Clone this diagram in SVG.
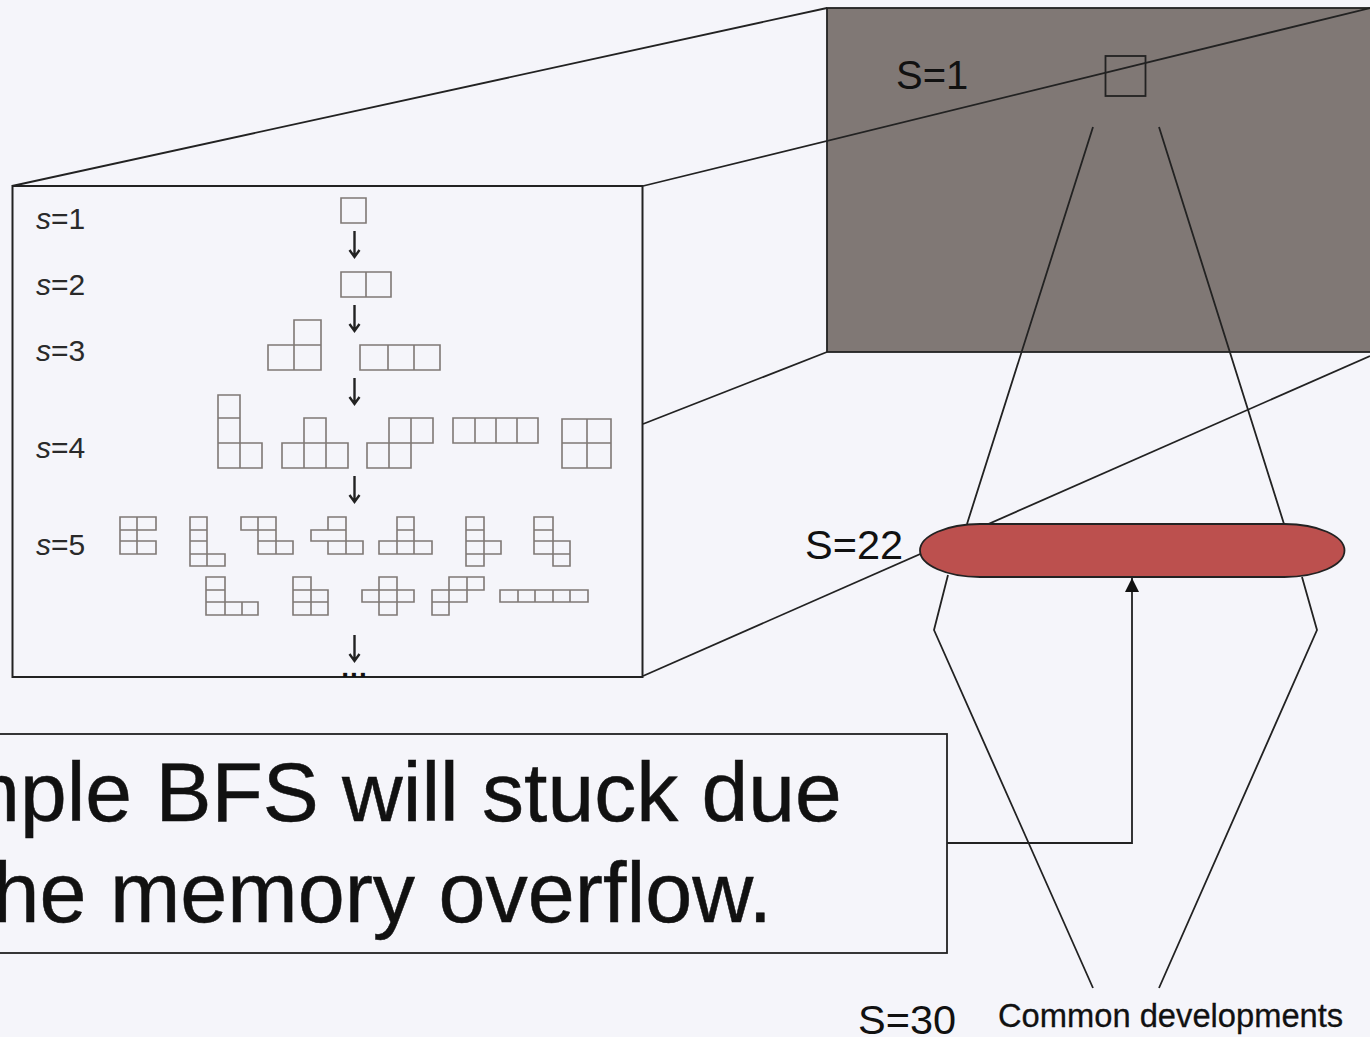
<svg xmlns="http://www.w3.org/2000/svg" width="1370" height="1037" viewBox="0 0 1370 1037">
<style>
text{font-family:"Liberation Sans",Arial,sans-serif;fill:#111}
.line{fill:none;stroke:#222;stroke-width:1.8}
.poly{fill:none;stroke:#7f7875;stroke-width:1.6}
.lab{font-size:30px;fill:#2a2a2a}
.lab tspan{font-style:italic}
.big{font-size:84px;stroke:#111;stroke-width:.5}
.mid{font-size:41.500px}
.arr{fill:none;stroke:#222;stroke-width:2.4}
</style>
<defs>
<g id="down"><path class="arr" d="M0 0V26M-5 19L0 26L5 19"/></g>
<marker id="tri" markerUnits="userSpaceOnUse" markerWidth="14" markerHeight="15" refX="7" refY="0" orient="0" overflow="visible"><path d="M0 14L7 0L14 14Z" fill="#111"/></marker>
</defs>
<rect width="1370" height="1037" fill="#f5f5fa"/>
<g id="overview">
<rect x="827" y="8" width="560" height="344" fill="#807875" stroke="#222" stroke-width="1.8"/>
<text x="896" y="89" style="font-size:40px">S=1</text>
<rect x="1105.500" y="56" width="40" height="40" fill="none" stroke="#222" stroke-width="1.8"/>
</g>
<g id="connectors">
<path class="line" d="M12 186L827 8"/>
<path class="line" d="M643 186L1370 8"/>
<path class="line" d="M643 424L827 352"/>
<path class="line" d="M643 676L1370 356"/>
<path class="line" d="M1093 127L967 524M948 575L934 630L1093 988"/>
<path class="line" d="M1159 127L1284 524M1302 577L1317 630L1159 988"/>
</g>
<g id="detail-frame">
<rect x="12.500" y="186" width="630" height="491" fill="#f5f5fa" stroke="#222" stroke-width="2"/>
<text class="lab" x="36" y="229"><tspan>s</tspan>=1</text>
<text class="lab" x="36" y="295"><tspan>s</tspan>=2</text>
<text class="lab" x="36" y="361"><tspan>s</tspan>=3</text>
<text class="lab" x="36" y="458"><tspan>s</tspan>=4</text>
<text class="lab" x="36" y="555"><tspan>s</tspan>=5</text>
<use href="#down" x="354.500" y="231"/>
<use href="#down" x="354.500" y="305"/>
<use href="#down" x="354.500" y="378"/>
<use href="#down" x="354.500" y="476"/>
<use href="#down" x="354.500" y="635"/>
<text x="354.500" y="677" text-anchor="middle" style="font-size:28px;font-weight:bold;letter-spacing:1px">...</text>
</g>
<g id="polyominoes-s1-s3" class="poly">
<path d="M341 198H366V223H341Z"/>
<path d="M341 272H391V297H341ZM366 272V297"/>
<path d="M268 345H321V370H268ZM294 320H321V370H294Z"/>
<path d="M360 345H440V370H360ZM388 345V370M414 345V370"/>
</g>
<g id="polyominoes-s4" class="poly">
<path d="M218 395H240V468H218ZM218 418H240M218 443H262V468H240V443"/>
<path d="M282 443H348V468H282ZM304 418H326V468H304Z"/>
<path d="M367 443H411V468H367ZM389 418H433V443H389ZM389 418V468M411 418V468"/>
<path d="M453 418H538V443H453ZM475 418V443M496 418V443M517 418V443"/>
<path d="M562 419H611V468H562ZM587 419V468M562 443H611"/>
</g>
<g id="polyominoes-s5" class="poly">
<path d="M120 517H156V530H137V541H156V554H120ZM137 517V554M120 530H137M120 541H137"/>
<path d="M190 517H207V554H225V566H190ZM190 530H207M190 541H207M190 554H207M207 554V566"/>
<path d="M241 517H276V541H293V554H258V530H241ZM258 517V530M258 530H276M258 541H276M276 541V554"/>
<path d="M328 517H346V541H363V554H328V541H311V530H328ZM328 530H346M328 541H346M346 541V554"/>
<path d="M397 517H414V541H432V554H379V541H397ZM397 530H414M397 541H414M397 541V554M414 541V554"/>
<path d="M466 517H484V541H501V554H484V566H466ZM466 530H484M466 541H484M466 554H484M484 541V554"/>
<path d="M534 517H553V541H570V566H553V554H534ZM534 530H553M534 541H553M553 541V554M553 554H570"/>
<path d="M206 577H225V602H258V615H206ZM206 590H225M206 602H225M225 602V615M242 602V615"/>
<path d="M293 577H311V590H328V615H293ZM293 590H311M293 602H328M311 590V615"/>
<path d="M379 577H397V590H414V602H397V615H379V602H362V590H379ZM379 590H397M379 602H397M379 590V602M397 590V602"/>
<path d="M449 577H484V590H467V602H449V615H432V590H449ZM467 577V590M449 590H467M432 602H449M449 590V602"/>
<path d="M500 590H588V602H500ZM518 590V602M535 590V602M553 590V602M570 590V602"/>
</g>
<g id="s22-band">
<rect x="920" y="524" width="424.500" height="53" rx="60" ry="26.500" fill="#bc504e" stroke="#222" stroke-width="1.8"/>
<text class="mid" x="805" y="559">S=22</text>
</g>
<g id="callout">
<rect x="-40" y="734" width="987" height="219" fill="#f5f5fa" stroke="#222" stroke-width="1.8"/>
<text class="big" x="-50" y="821">mple BFS will stuck due</text>
<text class="big" x="-7.500" y="922" style="font-size:84.500px">he memory overflow.</text>
</g>
<g id="callout-arrow">
<path class="line" d="M947 843H1132V578" marker-end="url(#tri)"/>
</g>
<g id="bottom-labels">
<text class="mid" x="858" y="1034">S=30</text>
<text x="998" y="1027" style="font-size:32.700px;stroke:#111;stroke-width:.3">Common developments</text>
</g>
</svg>
